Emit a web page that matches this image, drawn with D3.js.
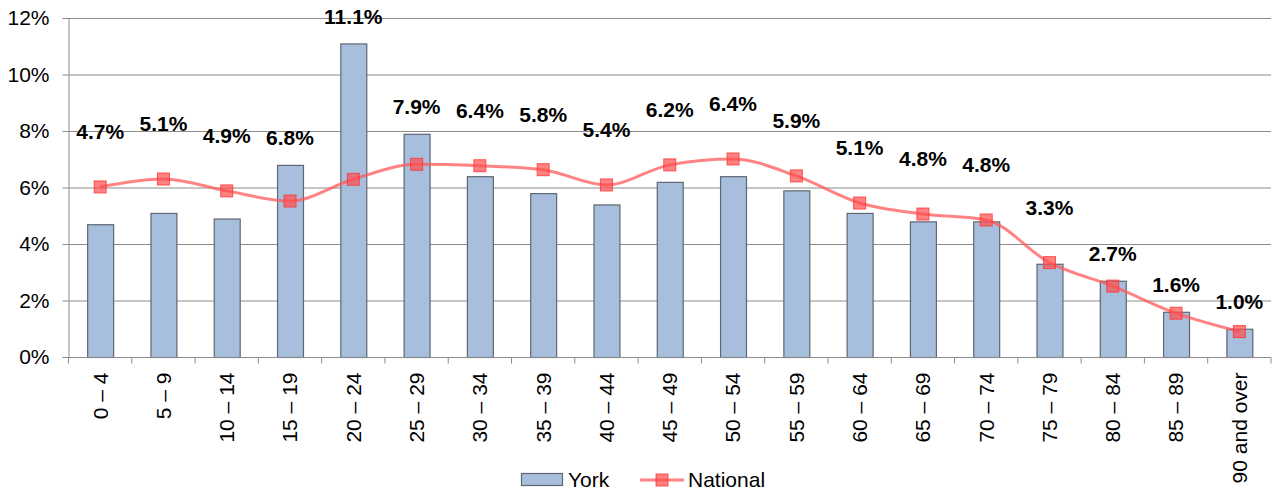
<!DOCTYPE html>
<html><head><meta charset="utf-8">
<script src="https://cdn.jsdelivr.net/npm/d3@7/dist/d3.min.js"></script>
<style>body{margin:0;background:#fff}svg{display:block;font-family:"Liberation Sans",Arial,sans-serif}</style>
</head><body><svg id="c" width="1272" height="490"></svg>
<script>
const categories = ["0 – 4","5 – 9","10 – 14","15 – 19","20 – 24","25 – 29","30 – 34","35 – 39","40 – 44","45 – 49","50 – 54","55 – 59","60 – 64","65 – 69","70 – 74","75 – 79","80 – 84","85 – 89","90 and over"];
const york = [4.7,5.1,4.9,6.8,11.1,7.9,6.4,5.8,5.4,6.2,6.4,5.9,5.1,4.8,4.8,3.3,2.7,1.6,1.0];
const national = [6.02,6.30,5.88,5.52,6.29,6.82,6.77,6.63,6.09,6.80,7.01,6.41,5.45,5.06,4.85,3.34,2.51,1.55,0.90];
const yTicks = [0,2,4,6,8,10,12];
const seriesNames = ["York","National"];

const svg = d3.select("#c");
const m = {l:68.5, r:1271, t:18, b:357};
const x = d3.scaleBand().domain(categories).range([m.l, m.r]).paddingInner(0).paddingOuter(0);
const y = d3.scaleLinear().domain([0,12]).range([m.b, m.t]);
const FS = 21;

// gridlines
svg.append("g").selectAll("line").data(yTicks.filter(d=>d>0)).join("line")
  .attr("x1", m.l).attr("x2", m.r).attr("y1", d=>y(d)+0.5).attr("y2", d=>y(d)+0.5)
  .attr("stroke","#8c8c8c").attr("stroke-width",1);

// y axis
const ya = svg.append("g").attr("transform",`translate(${m.l},0)`)
  .call(d3.axisLeft(y).tickValues(yTicks).tickSize(6).tickPadding(13).tickFormat(d=>d+"%"));
ya.select(".domain").attr("stroke","#8c8c8c");
ya.selectAll(".tick line").attr("stroke","#8c8c8c");
ya.selectAll("text").attr("font-size",FS).attr("fill","#000").attr("font-family","Liberation Sans, Arial, sans-serif");

// bars
const bw = x.bandwidth()*0.41;
svg.append("g").selectAll("rect").data(york).join("rect")
  .attr("x",(d,i)=>x(categories[i])+x.bandwidth()/2-bw/2+0.5)
  .attr("y",d=>y(d)+0.5)
  .attr("width",bw).attr("height",d=>y(0)-y(d))
  .attr("fill","#a7bfdd").attr("stroke","#5e6772").attr("stroke-width",1.2);

// x axis
const xa = svg.append("g").attr("transform",`translate(0,${m.b+0.5})`);
xa.append("line").attr("x1",m.l).attr("x2",m.r).attr("stroke","#8c8c8c");
xa.selectAll(".tk").data(d3.range(categories.length+1)).join("line")
  .attr("x1",i=>m.l+i*x.step()).attr("x2",i=>m.l+i*x.step()).attr("y1",0).attr("y2",6)
  .attr("stroke","#8c8c8c");
xa.selectAll("text").data(categories).join("text")
  .attr("transform",d=>`translate(${x(d)+x.bandwidth()/2},${15}) rotate(-90)`)
  .attr("dy","0.35em")
  .attr("text-anchor","end").attr("font-size",FS).attr("fill","#000").text(d=>d);

// national line
const line = d3.line().x((d,i)=>x(categories[i])+x.bandwidth()/2).y(d=>y(d)).curve(d3.curveMonotoneX);
svg.append("path").datum(national).attr("d",line).attr("fill","none")
  .attr("stroke","#ff5a5a").attr("stroke-opacity",0.75).attr("stroke-width",3);
const ms = 12;
svg.append("g").selectAll("rect").data(national).join("rect")
  .attr("x",(d,i)=>x(categories[i])+x.bandwidth()/2-ms/2).attr("y",d=>y(d)-ms/2)
  .attr("width",ms).attr("height",ms)
  .attr("fill","#ff4d4d").attr("fill-opacity",0.7).attr("stroke","#ff3333").attr("stroke-opacity",0.8).attr("stroke-width",1);

// data labels
svg.append("g").selectAll("text").data(york).join("text")
  .attr("x",(d,i)=>x(categories[i])+x.bandwidth()/2)
  .attr("y",(d,i)=> d>=national[i] ? y(d)-27 : y(national[i])-55)
  .attr("dy","0.35em").attr("text-anchor","middle")
  .attr("font-size",FS).attr("font-weight","bold").attr("fill","#000")
  .text(d=>d.toFixed(1)+"%");

// legend
const lg = svg.append("g");
lg.append("rect").attr("x",521.5).attr("y",473.5).attr("width",41).attr("height",12)
  .attr("fill","#a7bfdd").attr("stroke","#5e6772").attr("stroke-width",1.2);
lg.append("text").attr("x",568).attr("y",480).attr("dy","0.35em").attr("font-size",FS).text(seriesNames[0]);
lg.append("line").attr("x1",640).attr("x2",684).attr("y1",480).attr("y2",480)
  .attr("stroke","#ff5a5a").attr("stroke-opacity",0.75).attr("stroke-width",3);
lg.append("rect").attr("x",662-ms/2).attr("y",480-ms/2).attr("width",ms).attr("height",ms)
  .attr("fill","#ff4d4d").attr("fill-opacity",0.7).attr("stroke","#ff3333").attr("stroke-opacity",0.8);
lg.append("text").attr("x",688).attr("y",480).attr("dy","0.35em").attr("font-size",FS).text(seriesNames[1]);
</script></body></html>
